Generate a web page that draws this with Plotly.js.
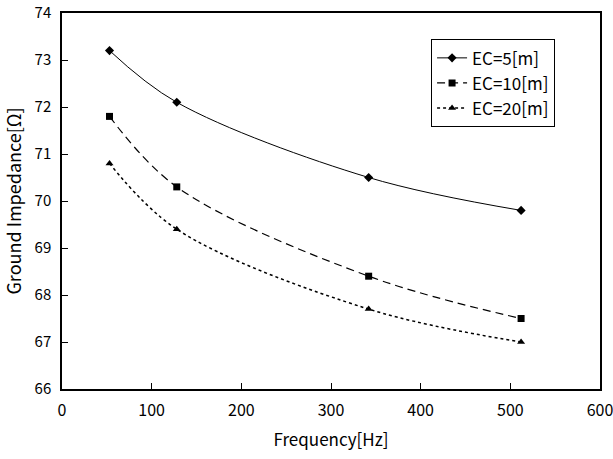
<!DOCTYPE html>
<html><head><meta charset="utf-8">
<script src="https://cdn.plot.ly/plotly-3.0.1.min.js"></script>
<style>body{margin:0;background:#fff}#c{width:613px;height:459px}</style>
</head><body><div id="c"></div>
<script>
const freq = [53, 128, 342, 512];
const ec5 = [73.2, 72.1, 70.5, 69.8];
const ec10 = [71.8, 70.3, 68.4, 67.5];
const ec20 = [70.8, 69.4, 67.7, 67.0];
const names = ['EC=5[m]', 'EC=10[m]', 'EC=20[m]'];
const xTicks = [0, 100, 200, 300, 400, 500, 600];
const yTicks = [66, 67, 68, 69, 70, 71, 72, 73, 74];
const FONT = '"Noto Sans CJK KR", "Noto Sans", sans-serif';
const traces = [
  {x: freq, y: ec5, name: names[0], mode: 'lines+markers', line: {color: '#000', width: 1, shape: 'spline', dash: 'solid'}, marker: {symbol: 'diamond', size: 7, color: '#000'}},
  {x: freq, y: ec10, name: names[1], mode: 'lines+markers', line: {color: '#000', width: 1.2, shape: 'spline', dash: '8px,5px'}, marker: {symbol: 'square', size: 7, color: '#000'}},
  {x: freq, y: ec20, name: names[2], mode: 'lines+markers', line: {color: '#000', width: 1.5, shape: 'spline', dash: 'dot'}, marker: {symbol: 'triangle-up', size: 7, color: '#000'}}
];
const layout = {
  width: 613, height: 459,
  margin: {l: 62, r: 13, t: 13, b: 70},
  paper_bgcolor: '#fff', plot_bgcolor: '#fff',
  font: {family: FONT, size: 16, color: '#000'},
  showlegend: true,
  legend: {x: 0.686, y: 0.93, xanchor: 'left', yanchor: 'top', bordercolor: '#000', borderwidth: 1, bgcolor: '#fff', font: {family: FONT, size: 17}, tracegroupgap: 0},
  xaxis: {range: [0, 600], tickmode: 'array', tickvals: xTicks, ticktext: xTicks.map(String), ticks: 'inside', ticklen: 6, tickcolor: '#000', showgrid: false, zeroline: false, showline: true, linecolor: '#000', linewidth: 1.5, mirror: true, ticklabelstandoff: 6, ticklabeloverflow: 'allow',
    title: {text: 'Frequency[Hz]', font: {family: FONT, size: 17}, standoff: 14}, tickfont: {family: FONT, size: 16}},
  yaxis: {range: [66, 74], tickmode: 'array', tickvals: yTicks, ticktext: yTicks.map(String), ticks: 'inside', ticklen: 6, tickcolor: '#000', showgrid: false, zeroline: false, showline: true, linecolor: '#000', linewidth: 1.5, mirror: true, ticklabelstandoff: 6, ticklabeloverflow: 'allow',
    title: {text: 'Ground Impedance[Ω]', font: {family: FONT, size: 18}, standoff: 8}, tickfont: {family: FONT, size: 15}}
};
Plotly.newPlot('c', traces, layout, {displayModeBar: false});
</script></body></html>
